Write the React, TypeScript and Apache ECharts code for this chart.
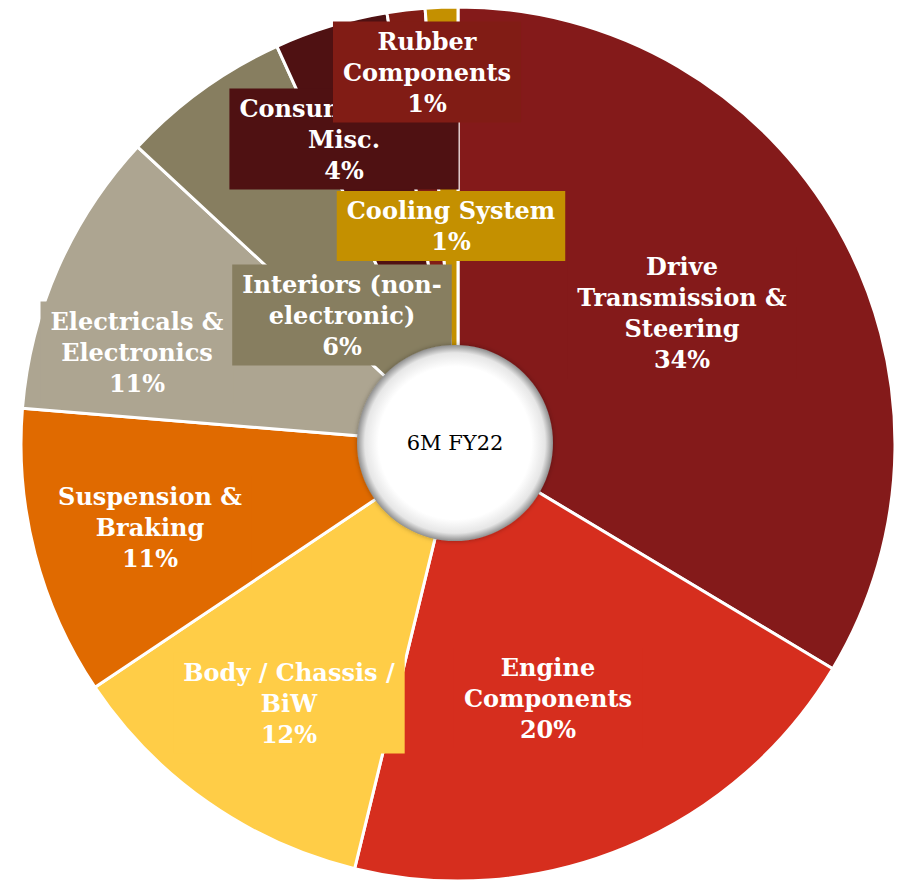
import React, { useEffect, useRef } from "react";
import * as echarts from "echarts";

const categories = [
  "Drive\nTransmission &\nSteering",
  "Engine\nComponents",
  "Body / Chassis /\nBiW",
  "Suspension &\nBraking",
  "Electricals &\nElectronics",
  "Interiors (non-\nelectronic)",
  "Consumables &\nMisc.",
  "Rubber\nComponents",
  "Cooling System",
];
const shares = [33.6, 20.2, 11.8, 10.7, 10.6, 6.3, 4.2, 1.4, 1.2];
const colors = [
  "#841A1A",
  "#D62E1E",
  "#FFCD47",
  "#E06A00",
  "#ADA591",
  "#877E60",
  "#4F1112",
  "#811C15",
  "#C49000",
];
const centerLabel = "6M FY22";
// label anchor positions (centre of each label box)
const labelPos: [number, number][] = [
  [682, 313],
  [548, 698],
  [289, 703],
  [150, 527],
  [137, 352],
  [342, 315],
  [344, 139],
  [427, 72],
  [451, 226],
];

const FONT = 'Georgia, "DejaVu Serif", serif';

export default function App() {
  const ref = useRef<HTMLDivElement>(null);
  useEffect(() => {
    if (!ref.current) return;
    const chart = echarts.init(ref.current, undefined, { renderer: "svg" });
    chart.setOption({
      animation: false,
      backgroundColor: "#ffffff",
      series: [
        {
          type: "pie",
          center: [458, 444],
          radius: [0, 437],
          startAngle: 90,
          clockwise: true,
          avoidLabelOverlap: false,
          itemStyle: { borderColor: "#ffffff", borderWidth: 3 },
          labelLine: { show: false },
          label: {
            show: true,
            position: "inside",
            color: "#ffffff",
            fontFamily: FONT,
            fontWeight: "bold",
            fontSize: 24,
            lineHeight: 31,
            align: "center",
            verticalAlign: "middle",
            padding: [4, 10],
            formatter: (p: any) => `${p.name}\n${Math.round(p.percent)}%`,
          },
          labelLayout: (p: any) => ({
            x: labelPos[p.dataIndex][0],
            y: labelPos[p.dataIndex][1],
            align: "center",
            verticalAlign: "middle",
          }),
          emphasis: { disabled: true },
          data: categories.map((name, i) => ({
            name,
            value: shares[i],
            itemStyle: { color: colors[i] },
            label: { backgroundColor: colors[i] },
          })),
        },
        {
          type: "pie",
          center: [455, 443],
          radius: [0, 98],
          silent: true,
          z: 5,
          labelLine: { show: false },
          label: {
            show: true,
            position: "center",
            color: "#000000",
            fontFamily: FONT,
            fontSize: 21,
            formatter: centerLabel,
          },
          itemStyle: {
            color: new echarts.graphic.RadialGradient(0.5, 0.5, 0.5, [
              { offset: 0, color: "#ffffff" },
              { offset: 0.78, color: "#ffffff" },
              { offset: 0.92, color: "#e6e6e6" },
              { offset: 1, color: "#8f8f8f" },
            ]),
            shadowBlur: 5,
            shadowColor: "rgba(0,0,0,0.3)",
          },
          data: [{ name: "centre", value: 1 }],
        },
      ],
    });
    return () => chart.dispose();
  }, []);
  return (
    <div
      ref={ref}
      style={{ position: "absolute", left: 0, top: 0, width: 905, height: 882 }}
    />
  );
}
